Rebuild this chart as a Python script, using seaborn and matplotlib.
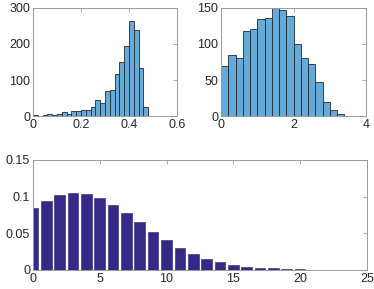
import numpy as np
import pandas as pd
import matplotlib
matplotlib.use("Agg")
import matplotlib.pyplot as plt
import seaborn as sns
from matplotlib.ticker import FormatStrFormatter, FuncFormatter

sns.set_style("white")
plt.rcParams['font.family'] = ['Liberation Sans', 'DejaVu Sans']

# Top-left histogram: bin edges 0..0.48 step 0.02
h1_edges = [0.00, 0.02, 0.04, 0.06, 0.08, 0.10, 0.12, 0.14, 0.16, 0.18, 0.20, 0.22, 0.24,
            0.26, 0.28, 0.30, 0.32, 0.34, 0.36, 0.38, 0.40, 0.42, 0.44, 0.46, 0.48]
h1_counts = [3, 1, 3, 7, 5, 7, 13, 8, 16, 14, 17, 19, 26,
             46, 38, 69, 72, 116, 150, 195, 264, 237, 134, 26]

# Top-right histogram: bin edges 0..4 step 0.2
h2_edges = [0.0, 0.2, 0.4, 0.6, 0.8, 1.0, 1.2, 1.4, 1.6, 1.8, 2.0,
            2.2, 2.4, 2.6, 2.8, 3.0, 3.2, 3.4, 3.6, 3.8, 4.0]
h2_counts = [70, 84, 80, 117, 121, 134, 136, 149, 146, 138,
             100, 81, 72, 48, 20, 9, 4, 0, 0, 1]

# Bottom bar chart
k_vals = list(range(0, 25))
probs = [0.085, 0.0945, 0.1014, 0.1045, 0.1036, 0.0977, 0.089, 0.0777, 0.065, 0.0523,
         0.0405, 0.030, 0.0214, 0.0155, 0.0105, 0.0073, 0.0045, 0.0032, 0.0023, 0.0014,
         0.0008, 0.0005, 0.0003, 0.0002, 0.0001]

fig = plt.figure(figsize=(3.74, 2.89), dpi=100)
ax1 = fig.add_axes([0.088, 0.597, 0.385, 0.377])
ax2 = fig.add_axes([0.591, 0.597, 0.388, 0.377])
ax3 = fig.add_axes([0.088, 0.066, 0.893, 0.381])

face = '#66aad7'
edge = '#1e2a36'

def centers(edges):
    e = np.asarray(edges)
    return (e[:-1] + e[1:]) / 2

df1 = pd.DataFrame({'x': centers(h1_edges), 'w': h1_counts})
sns.histplot(data=df1, x='x', weights='w', bins=h1_edges, ax=ax1,
             color=face, edgecolor=edge, linewidth=0.6, alpha=1)
df2 = pd.DataFrame({'x': centers(h2_edges), 'w': h2_counts})
sns.histplot(data=df2, x='x', weights='w', bins=h2_edges, ax=ax2,
             color=face, edgecolor=edge, linewidth=0.6, alpha=1)

df3 = pd.DataFrame({'k': k_vals, 'p': probs})
sns.barplot(data=df3, x='k', y='p', native_scale=True, ax=ax3,
            color='#352a87', saturation=1, edgecolor='#2a2266', linewidth=0.4, width=0.8)

ax1.set_xlim(0, 0.6); ax1.set_ylim(0, 300)
ax1.set_xticks([0, 0.2, 0.4, 0.6]); ax1.set_yticks([0, 100, 200, 300])
ax2.set_xlim(0, 4); ax2.set_ylim(0, 150)
ax2.set_xticks([0, 2, 4]); ax2.set_yticks([0, 50, 100, 150])
ax3.set_xlim(0, 25); ax3.set_ylim(0, 0.15)
ax3.set_xticks([0, 5, 10, 15, 20, 25]); ax3.set_yticks([0, 0.05, 0.1, 0.15])

fmt = FuncFormatter(lambda v, p: ('%g' % round(v, 6)))
for ax in (ax1, ax2, ax3):
    ax.set_xlabel(''); ax.set_ylabel('')
    ax.xaxis.set_major_formatter(fmt)
    ax.yaxis.set_major_formatter(fmt)
    for s in ax.spines.values():
        s.set_color('#9a9a9a')
        s.set_linewidth(0.7)
    ax.tick_params(direction='in', length=3, width=0.6, color='#9a9a9a',
                   top=True, right=True, labelsize=9, labelcolor='#262626', pad=2)

fig.savefig('out.png', dpi=100)
